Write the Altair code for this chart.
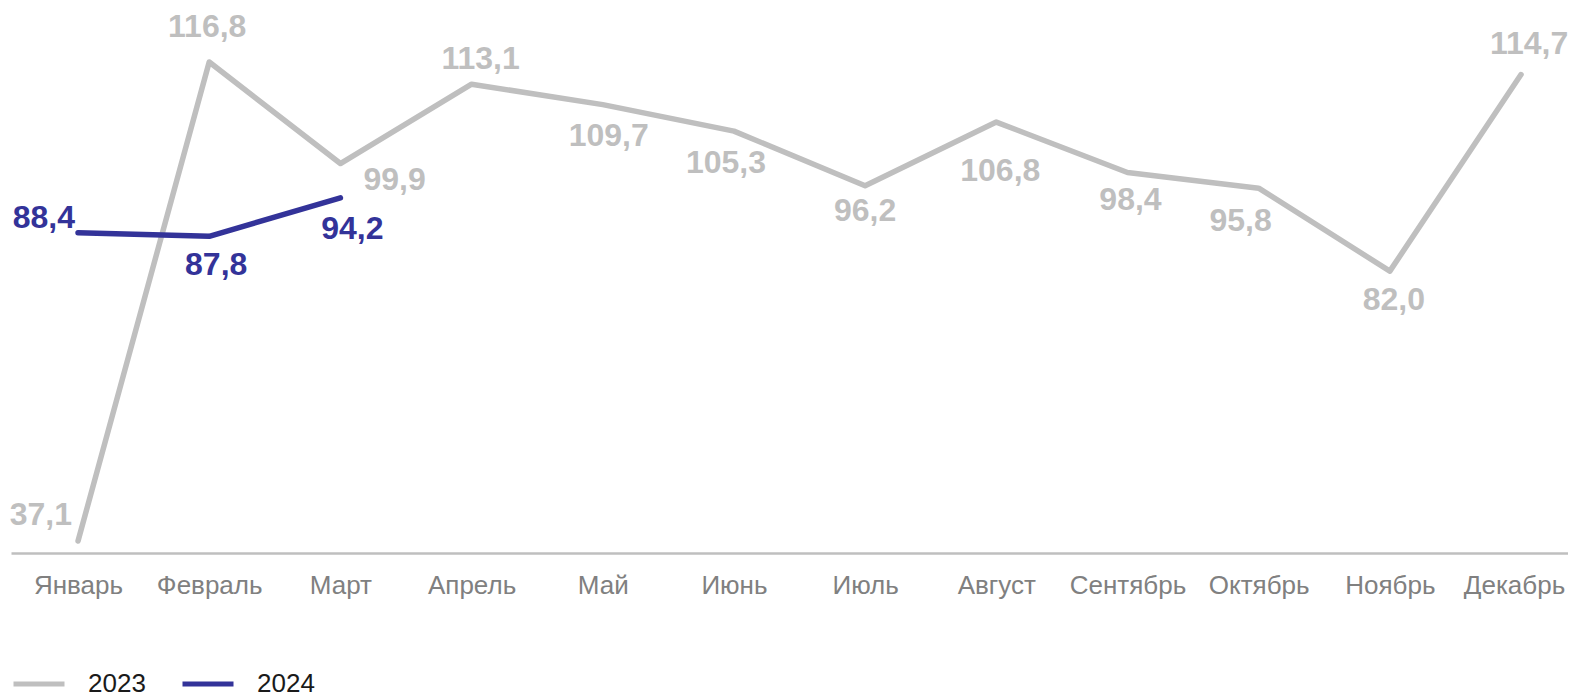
import altair as alt
import pandas as pd

months = ["Январь", "Февраль", "Март", "Апрель", "Май", "Июнь",
          "Июль", "Август", "Сентябрь", "Октябрь", "Ноябрь", "Декабрь"]
values_2023 = [37.1, 116.8, 99.9, 113.1, 109.7, 105.3, 96.2, 106.8, 98.4, 95.8, 82.0, 114.7]
values_2024 = [88.4, 87.8, 94.2]
years = ["2023", "2024"]
colors = ["#BFBFBF", "#333399"]

rows = []
for m, v in zip(months, values_2023):
    rows.append({"month": m, "value": v, "year": "2023"})
for m, v in zip(months, values_2024):
    rows.append({"month": m, "value": v, "year": "2024"})
df = pd.DataFrame(rows)
df["label"] = df["value"].map(lambda v: f"{v:.1f}".replace(".", ","))

FONT = "Liberation Sans"

x = alt.X("month:O", sort=months, title=None,
          scale=alt.Scale(padding=0.4345, align=0.588),
          axis=alt.Axis(labelAngle=0, labelFontSize=26, labelColor="#808080",
                        labelFont=FONT, domainColor="#BFBFBF", domainWidth=2.5,
                        ticks=False, grid=False, labelPadding=19,
                        labelOffset={"condition": {"test": "datum.value == 'Декабрь'", "value": -7},
                                     "value": 0}))
y = alt.Y("value:Q", title=None, axis=None,
          scale=alt.Scale(domain=[35.1, 125.78], nice=False, zero=False))
color_scale = alt.Scale(domain=years, range=colors)

base = alt.Chart(df)

lines = base.mark_line(strokeWidth=5.5, strokeCap="round", strokeJoin="round").encode(
    x=x, y=y,
    color=alt.Color("year:N", scale=color_scale, title=None,
                    legend=alt.Legend(orient="none", legendX=0, legendY=648,
                                      direction="horizontal", symbolType="stroke",
                                      symbolSize=2601, symbolStrokeWidth=5,
                                      labelFontSize=26, labelFont=FONT,
                                      labelColor="#1a1a1a", labelOffset=21,
                                      columnPadding=26, padding=0))
)

# label placement (style): (year, month) -> (dx, dy, align)
placement = {
    ("2023", "Январь"): (-6, -26, "right"),
    ("2023", "Февраль"): (-2, -35, "center"),
    ("2023", "Март"): (23, 16, "left"),
    ("2023", "Апрель"): (9, -25, "center"),
    ("2023", "Май"): (6, 31, "center"),
    ("2023", "Июнь"): (-8, 32, "center"),
    ("2023", "Июль"): (0, 25, "center"),
    ("2023", "Август"): (4, 49, "center"),
    ("2023", "Сентябрь"): (3, 27, "center"),
    ("2023", "Октябрь"): (-18, 33, "center"),
    ("2023", "Ноябрь"): (4, 29, "center"),
    ("2023", "Декабрь"): (8, -31, "center"),
    ("2024", "Январь"): (-3, -15, "right"),
    ("2024", "Февраль"): (7, 29, "center"),
    ("2024", "Март"): (12, 31, "center"),
}

layers = [lines]
for (yr, mo), (dx, dy, al) in placement.items():
    layers.append(
        base.transform_filter(
            f"datum.year == '{yr}' && datum.month == '{mo}'"
        ).mark_text(
            fontSize=32, fontWeight="bold", font=FONT, dx=dx, dy=dy,
            align=al, baseline="middle"
        ).encode(
            x=x, y=y, text="label:N",
            color=alt.Color("year:N", scale=color_scale, legend=None)
        )
    )

chart = alt.layer(*layers).properties(
    width=1557, height=545,
    padding={"left": 3, "top": 0, "right": 0, "bottom": 140},
    autosize=alt.AutoSizeParams(type="none"),
).configure_view(stroke=None)

chart.save("out.html", embed_options={"renderer": "svg", "actions": False})
